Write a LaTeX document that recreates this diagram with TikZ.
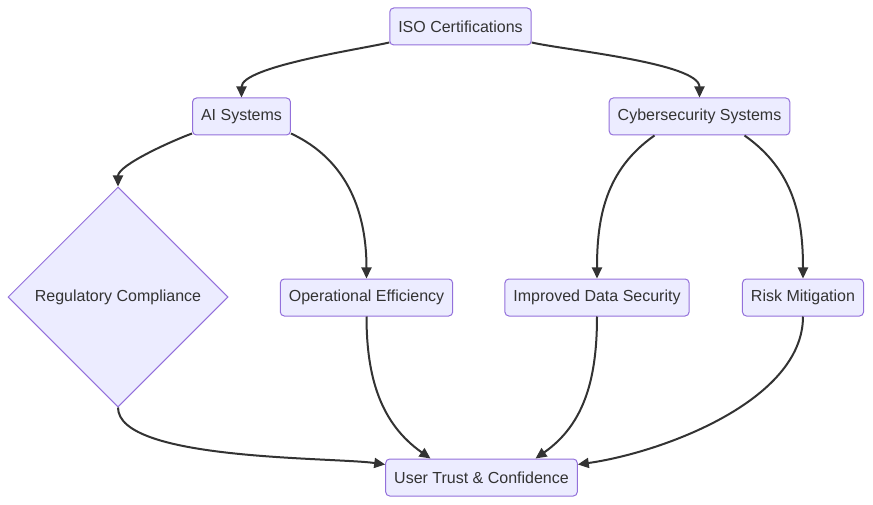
\documentclass[tikz,border=0pt]{standalone}
\usepackage{fontspec}
\setmainfont{Liberation Sans}
\usepackage{tikz}
\usetikzlibrary{arrows.meta,shapes.geometric}
\usetikzlibrary{positioning}

\definecolor{boxfill}{HTML}{ECECFF}
\definecolor{boxline}{HTML}{9370DB}
\definecolor{ink}{HTML}{333333}

\begin{document}
\begin{tikzpicture}[x=1pt,y=-1pt,
  every node/.style={text=ink,font=\fontsize{16}{19}\selectfont},
  box/.style={draw=boxline,fill=boxfill,line width=1pt,rounded corners=4pt,
    minimum height=37pt,inner xsep=8.5pt},
  decision/.style={diamond,draw=boxline,fill=boxfill,line width=1pt,
    minimum width=220pt,minimum height=220pt,inner sep=0pt},
  link/.style={draw=ink,line width=2pt,-{Triangle[length=11pt,width=10pt]}}]
\useasboundingbox (0,0) rectangle (873,505);
% nodes
\node[box] (iso) at (460.5,26.5) {ISO Certifications};
\node[box] (ai) at (241.5,116.5) {AI Systems};
\node[box] (cyber) at (699.5,116.5) {Cybersecurity Systems};
\node[decision] (reg) at (118,297) {Regulatory Compliance};
\node[box] (opeff) at (366.5,297.5) {Operational Efficiency};
\node[box] (datasec) at (597,297.5) {Improved Data Security};
\node[box] (risk) at (803,297.5) {Risk Mitigation};
\node[box] (trust) at (481.5,477.5) {User Trust \& Confidence};
% edges
\draw[link] ([yshift=3pt]iso.south west) to[out=193,in=90,looseness=0.5] (ai.north);
\draw[link] ([yshift=3pt]iso.south east) to[out=-13,in=90,looseness=0.5] (cyber.north);
\draw[link] ([yshift=2pt]ai.south west) to[out=200,in=90,looseness=0.6] (reg.north);
\draw[link] ([yshift=2pt]ai.south east) to[out=-25,in=90] (opeff.north);
\draw[link] ([xshift=-45pt]cyber.south) to[out=215,in=90] (datasec.north);
\draw[link] ([xshift=45pt]cyber.south) to[out=-35,in=90] (risk.north);
\draw[link] (reg.south) to[out=-90,in=172,looseness=0.5] ([yshift=-6pt]trust.north west);
\draw[link] (opeff.south) to[out=-90,in=145] ([xshift=-51pt]trust.north);
\draw[link] (datasec.south) to[out=-90,in=35] ([xshift=54pt]trust.north);
\draw[link] (risk.south) to[out=-90,in=8,looseness=0.8] ([yshift=-6pt]trust.north east);
\end{tikzpicture}
\end{document}
